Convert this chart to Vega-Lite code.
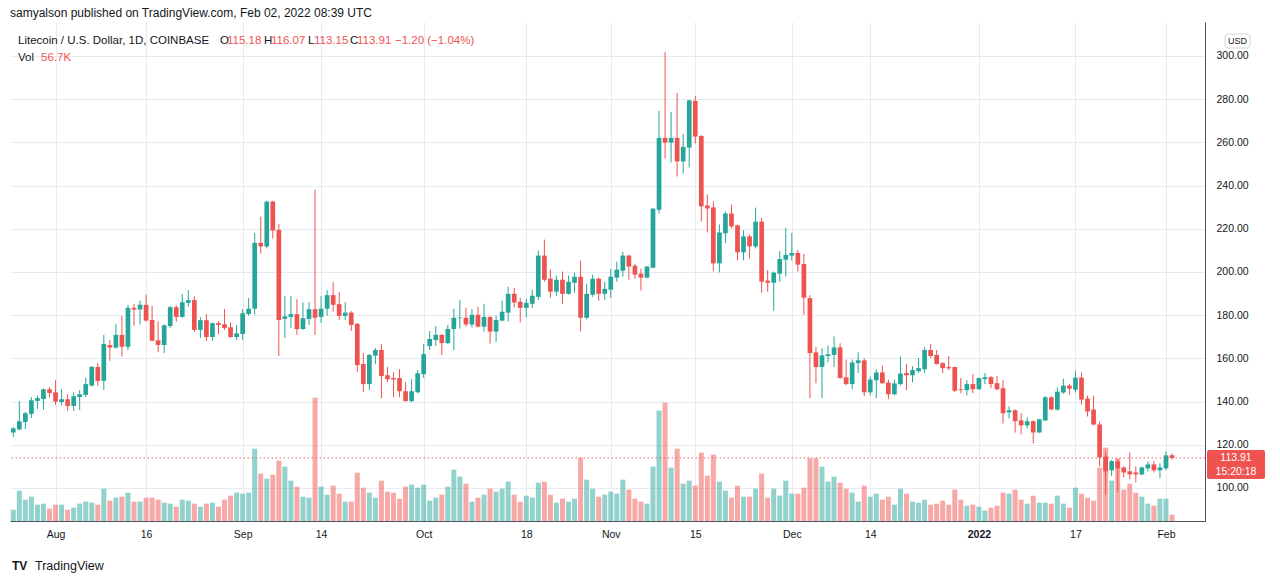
{
"$schema":"https://vega.github.io/schema/vega-lite/v6.json",
"autosize":"none","width":1195,"height":499,
"padding":{"left":10,"top":22,"right":75,"bottom":63},
"background":"#ffffff",
"config":{"view":{"stroke":null},"font":"Liberation Sans","scale":{"continuousPadding":0}},
"title":{"text":"samyalson published on TradingView.com, Feb 02, 2022 08:39 UTC","anchor":"start","frame":"group","offset":2,"fontSize":12,"fontWeight":"normal","color":"#131722"},
"data":{"values":[
{"d":"2021-07-25","o":125.7,"h":128.2,"l":123.6,"c":127.6,"v":102},
{"d":"2021-07-26","o":127.1,"h":140.2,"l":126.8,"c":130.9,"v":273},
{"d":"2021-07-27","o":130.5,"h":135.2,"l":127.3,"c":134.6,"v":192},
{"d":"2021-07-28","o":134.3,"h":142.0,"l":132.4,"c":140.6,"v":219},
{"d":"2021-07-29","o":140.3,"h":142.8,"l":136.6,"c":141.6,"v":147},
{"d":"2021-07-30","o":141.2,"h":146.0,"l":136.3,"c":145.7,"v":156},
{"d":"2021-07-31","o":145.7,"h":146.7,"l":142.0,"c":144.0,"v":111},
{"d":"2021-08-01","o":144.3,"h":149.9,"l":138.4,"c":140.0,"v":147},
{"d":"2021-08-02","o":139.8,"h":145.7,"l":138.3,"c":141.1,"v":147},
{"d":"2021-08-03","o":141.1,"h":143.4,"l":135.7,"c":138.0,"v":102},
{"d":"2021-08-04","o":138.0,"h":144.3,"l":135.7,"c":142.5,"v":120},
{"d":"2021-08-05","o":142.1,"h":145.3,"l":136.1,"c":143.4,"v":156},
{"d":"2021-08-06","o":143.1,"h":151.0,"l":142.1,"c":148.1,"v":174},
{"d":"2021-08-07","o":147.4,"h":156.4,"l":147.0,"c":156.1,"v":165},
{"d":"2021-08-08","o":156.0,"h":157.8,"l":147.3,"c":149.6,"v":147},
{"d":"2021-08-09","o":149.6,"h":170.9,"l":145.4,"c":166.7,"v":291},
{"d":"2021-08-10","o":166.2,"h":168.5,"l":158.9,"c":165.0,"v":183},
{"d":"2021-08-11","o":165.0,"h":176.0,"l":164.5,"c":170.9,"v":210},
{"d":"2021-08-12","o":170.9,"h":179.7,"l":160.8,"c":165.4,"v":219},
{"d":"2021-08-13","o":165.4,"h":184.7,"l":163.9,"c":183.4,"v":255},
{"d":"2021-08-14","o":183.4,"h":185.3,"l":175.2,"c":182.6,"v":174},
{"d":"2021-08-15","o":182.6,"h":186.7,"l":175.7,"c":184.8,"v":174},
{"d":"2021-08-16","o":184.8,"h":189.5,"l":177.0,"c":177.5,"v":210},
{"d":"2021-08-17","o":177.8,"h":184.3,"l":167.9,"c":168.2,"v":210},
{"d":"2021-08-18","o":168.4,"h":177.2,"l":162.9,"c":166.2,"v":192},
{"d":"2021-08-19","o":166.2,"h":175.8,"l":162.5,"c":175.3,"v":165},
{"d":"2021-08-20","o":175.0,"h":184.2,"l":174.1,"c":183.7,"v":156},
{"d":"2021-08-21","o":183.7,"h":184.6,"l":176.9,"c":179.2,"v":129},
{"d":"2021-08-22","o":179.2,"h":189.8,"l":178.8,"c":186.0,"v":192},
{"d":"2021-08-23","o":185.7,"h":191.6,"l":183.9,"c":187.0,"v":183},
{"d":"2021-08-24","o":187.0,"h":188.8,"l":172.3,"c":173.2,"v":156},
{"d":"2021-08-25","o":173.2,"h":179.1,"l":169.5,"c":177.7,"v":129},
{"d":"2021-08-26","o":177.7,"h":180.5,"l":168.1,"c":169.9,"v":156},
{"d":"2021-08-27","o":169.9,"h":176.6,"l":168.1,"c":176.3,"v":165},
{"d":"2021-08-28","o":176.3,"h":177.2,"l":171.3,"c":175.5,"v":129},
{"d":"2021-08-29","o":175.8,"h":182.8,"l":173.2,"c":174.1,"v":192},
{"d":"2021-08-30","o":174.4,"h":176.7,"l":169.5,"c":169.9,"v":228},
{"d":"2021-08-31","o":169.9,"h":175.3,"l":168.5,"c":171.6,"v":255},
{"d":"2021-09-01","o":171.3,"h":182.8,"l":168.5,"c":180.9,"v":246},
{"d":"2021-09-02","o":180.6,"h":187.9,"l":179.7,"c":183.0,"v":255},
{"d":"2021-09-03","o":183.0,"h":218.1,"l":180.2,"c":213.5,"v":651},
{"d":"2021-09-04","o":213.5,"h":225.6,"l":208.5,"c":211.8,"v":426},
{"d":"2021-09-05","o":211.8,"h":233.0,"l":210.9,"c":232.6,"v":381},
{"d":"2021-09-06","o":232.6,"h":233.0,"l":215.5,"c":219.2,"v":417},
{"d":"2021-09-07","o":219.5,"h":222.3,"l":161.1,"c":177.8,"v":543},
{"d":"2021-09-08","o":178.3,"h":188.8,"l":169.5,"c":179.5,"v":489},
{"d":"2021-09-09","o":179.2,"h":188.8,"l":174.1,"c":180.5,"v":363},
{"d":"2021-09-10","o":180.5,"h":187.4,"l":170.9,"c":173.6,"v":309},
{"d":"2021-09-11","o":173.6,"h":186.0,"l":173.2,"c":178.6,"v":219},
{"d":"2021-09-12","o":178.3,"h":186.0,"l":175.5,"c":182.8,"v":210},
{"d":"2021-09-13","o":182.8,"h":238.1,"l":170.9,"c":178.8,"v":1110},
{"d":"2021-09-14","o":179.2,"h":188.8,"l":176.4,"c":183.0,"v":309},
{"d":"2021-09-15","o":183.0,"h":191.6,"l":179.7,"c":189.3,"v":237},
{"d":"2021-09-16","o":189.3,"h":195.3,"l":181.6,"c":184.8,"v":318},
{"d":"2021-09-17","o":185.1,"h":190.7,"l":177.8,"c":179.7,"v":246},
{"d":"2021-09-18","o":179.7,"h":186.0,"l":177.8,"c":181.2,"v":174},
{"d":"2021-09-19","o":181.2,"h":181.9,"l":172.7,"c":175.5,"v":174},
{"d":"2021-09-20","o":176.0,"h":176.4,"l":153.6,"c":156.9,"v":435},
{"d":"2021-09-21","o":157.4,"h":162.5,"l":144.3,"c":148.1,"v":300},
{"d":"2021-09-22","o":148.1,"h":162.0,"l":145.3,"c":161.6,"v":255},
{"d":"2021-09-23","o":161.3,"h":164.8,"l":157.4,"c":163.9,"v":210},
{"d":"2021-09-24","o":163.9,"h":166.7,"l":141.6,"c":151.8,"v":363},
{"d":"2021-09-25","o":152.2,"h":156.0,"l":149.0,"c":150.4,"v":264},
{"d":"2021-09-26","o":150.9,"h":153.6,"l":142.0,"c":150.2,"v":255},
{"d":"2021-09-27","o":150.9,"h":155.0,"l":142.0,"c":144.8,"v":201},
{"d":"2021-09-28","o":144.8,"h":149.0,"l":140.0,"c":140.2,"v":309},
{"d":"2021-09-29","o":140.2,"h":150.4,"l":139.7,"c":144.8,"v":327},
{"d":"2021-09-30","o":144.3,"h":154.6,"l":143.9,"c":153.1,"v":300},
{"d":"2021-10-01","o":152.7,"h":166.7,"l":150.9,"c":162.0,"v":327},
{"d":"2021-10-02","o":165.7,"h":172.7,"l":163.9,"c":169.0,"v":183},
{"d":"2021-10-03","o":168.5,"h":175.0,"l":165.7,"c":170.9,"v":210},
{"d":"2021-10-04","o":170.9,"h":171.2,"l":161.6,"c":167.1,"v":237},
{"d":"2021-10-05","o":167.1,"h":175.5,"l":166.7,"c":173.6,"v":309},
{"d":"2021-10-06","o":173.6,"h":183.0,"l":163.9,"c":178.8,"v":462},
{"d":"2021-10-07","o":178.6,"h":187.1,"l":173.8,"c":178.9,"v":399},
{"d":"2021-10-08","o":178.8,"h":183.4,"l":174.7,"c":175.7,"v":336},
{"d":"2021-10-09","o":175.7,"h":182.9,"l":174.3,"c":180.2,"v":174},
{"d":"2021-10-10","o":180.2,"h":183.9,"l":174.3,"c":174.7,"v":210},
{"d":"2021-10-11","o":174.7,"h":185.3,"l":172.4,"c":179.2,"v":237},
{"d":"2021-10-12","o":179.2,"h":179.5,"l":166.8,"c":172.4,"v":291},
{"d":"2021-10-13","o":172.4,"h":179.7,"l":167.7,"c":177.8,"v":264},
{"d":"2021-10-14","o":177.5,"h":186.7,"l":177.1,"c":181.6,"v":291},
{"d":"2021-10-15","o":181.2,"h":193.2,"l":177.1,"c":189.9,"v":354},
{"d":"2021-10-16","o":189.9,"h":192.7,"l":183.6,"c":185.9,"v":237},
{"d":"2021-10-17","o":186.2,"h":188.1,"l":176.6,"c":183.4,"v":174},
{"d":"2021-10-18","o":183.4,"h":187.6,"l":178.9,"c":185.7,"v":228},
{"d":"2021-10-19","o":185.3,"h":191.8,"l":183.4,"c":189.0,"v":210},
{"d":"2021-10-20","o":188.5,"h":209.9,"l":187.1,"c":207.6,"v":345},
{"d":"2021-10-21","o":207.6,"h":215.0,"l":195.5,"c":196.4,"v":354},
{"d":"2021-10-22","o":196.9,"h":201.1,"l":188.1,"c":190.9,"v":237},
{"d":"2021-10-23","o":190.9,"h":198.3,"l":189.0,"c":196.4,"v":165},
{"d":"2021-10-24","o":196.4,"h":200.2,"l":185.3,"c":189.9,"v":201},
{"d":"2021-10-25","o":189.9,"h":198.3,"l":189.6,"c":195.5,"v":174},
{"d":"2021-10-26","o":195.0,"h":199.7,"l":190.4,"c":197.8,"v":201},
{"d":"2021-10-27","o":197.8,"h":205.3,"l":172.4,"c":178.8,"v":570},
{"d":"2021-10-28","o":178.8,"h":194.6,"l":178.0,"c":189.9,"v":372},
{"d":"2021-10-29","o":189.5,"h":198.8,"l":188.5,"c":196.9,"v":291},
{"d":"2021-10-30","o":196.9,"h":197.4,"l":186.7,"c":189.9,"v":219},
{"d":"2021-10-31","o":189.9,"h":195.5,"l":187.1,"c":192.2,"v":237},
{"d":"2021-11-01","o":191.8,"h":201.5,"l":188.0,"c":197.8,"v":264},
{"d":"2021-11-02","o":197.4,"h":204.8,"l":195.5,"c":201.1,"v":246},
{"d":"2021-11-03","o":200.6,"h":209.4,"l":197.8,"c":207.6,"v":372},
{"d":"2021-11-04","o":207.6,"h":207.9,"l":196.5,"c":202.5,"v":282},
{"d":"2021-11-05","o":202.9,"h":203.9,"l":196.9,"c":198.8,"v":201},
{"d":"2021-11-06","o":199.2,"h":201.5,"l":191.4,"c":197.4,"v":174},
{"d":"2021-11-07","o":197.4,"h":202.8,"l":197.1,"c":202.5,"v":156},
{"d":"2021-11-08","o":202.0,"h":229.7,"l":201.8,"c":229.3,"v":489},
{"d":"2021-11-09","o":228.8,"h":274.6,"l":227.0,"c":262.1,"v":993},
{"d":"2021-11-10","o":262.1,"h":301.8,"l":252.5,"c":259.9,"v":1065},
{"d":"2021-11-11","o":259.9,"h":274.1,"l":250.7,"c":262.1,"v":480},
{"d":"2021-11-12","o":262.1,"h":282.9,"l":244.2,"c":251.2,"v":651},
{"d":"2021-11-13","o":251.2,"h":263.9,"l":245.6,"c":257.9,"v":336},
{"d":"2021-11-14","o":257.6,"h":279.8,"l":248.4,"c":279.4,"v":363},
{"d":"2021-11-15","o":279.2,"h":281.5,"l":259.5,"c":262.7,"v":318},
{"d":"2021-11-16","o":263.0,"h":263.3,"l":223.4,"c":230.4,"v":615},
{"d":"2021-11-17","o":230.8,"h":235.9,"l":218.3,"c":229.4,"v":408},
{"d":"2021-11-18","o":229.9,"h":232.7,"l":200.3,"c":204.0,"v":597},
{"d":"2021-11-19","o":204.0,"h":222.0,"l":199.8,"c":218.3,"v":354},
{"d":"2021-11-20","o":217.9,"h":228.0,"l":213.3,"c":227.1,"v":273},
{"d":"2021-11-21","o":227.1,"h":231.3,"l":220.2,"c":221.1,"v":210},
{"d":"2021-11-22","o":221.6,"h":221.9,"l":205.4,"c":209.1,"v":318},
{"d":"2021-11-23","o":209.1,"h":219.3,"l":205.4,"c":216.5,"v":219},
{"d":"2021-11-24","o":216.5,"h":217.4,"l":206.3,"c":211.9,"v":219},
{"d":"2021-11-25","o":211.8,"h":229.8,"l":210.9,"c":223.3,"v":291},
{"d":"2021-11-26","o":223.3,"h":225.1,"l":190.4,"c":195.5,"v":426},
{"d":"2021-11-27","o":196.0,"h":200.9,"l":190.9,"c":195.0,"v":210},
{"d":"2021-11-28","o":195.0,"h":200.2,"l":182.0,"c":199.7,"v":291},
{"d":"2021-11-29","o":199.2,"h":209.8,"l":195.5,"c":206.0,"v":228},
{"d":"2021-11-30","o":205.7,"h":220.5,"l":197.8,"c":207.9,"v":363},
{"d":"2021-12-01","o":207.6,"h":218.1,"l":205.3,"c":208.8,"v":246},
{"d":"2021-12-02","o":208.8,"h":210.2,"l":200.2,"c":203.4,"v":246},
{"d":"2021-12-03","o":203.7,"h":208.4,"l":180.2,"c":188.1,"v":300},
{"d":"2021-12-04","o":187.9,"h":189.3,"l":141.6,"c":162.5,"v":564},
{"d":"2021-12-05","o":162.8,"h":165.3,"l":148.5,"c":156.0,"v":564},
{"d":"2021-12-06","o":156.0,"h":164.7,"l":141.6,"c":161.4,"v":489},
{"d":"2021-12-07","o":161.1,"h":166.0,"l":158.3,"c":161.9,"v":354},
{"d":"2021-12-08","o":161.6,"h":170.2,"l":156.0,"c":165.1,"v":399},
{"d":"2021-12-09","o":165.1,"h":167.0,"l":150.6,"c":150.9,"v":345},
{"d":"2021-12-10","o":151.2,"h":159.5,"l":147.6,"c":148.1,"v":291},
{"d":"2021-12-11","o":148.1,"h":159.5,"l":145.7,"c":158.1,"v":255},
{"d":"2021-12-12","o":157.8,"h":162.8,"l":153.2,"c":159.1,"v":174},
{"d":"2021-12-13","o":159.1,"h":160.0,"l":142.5,"c":144.3,"v":318},
{"d":"2021-12-14","o":144.3,"h":151.6,"l":142.9,"c":150.2,"v":219},
{"d":"2021-12-15","o":149.9,"h":154.9,"l":141.6,"c":153.5,"v":246},
{"d":"2021-12-16","o":153.5,"h":156.7,"l":148.3,"c":148.5,"v":192},
{"d":"2021-12-17","o":148.8,"h":150.2,"l":141.1,"c":143.4,"v":219},
{"d":"2021-12-18","o":143.4,"h":150.2,"l":142.9,"c":148.4,"v":147},
{"d":"2021-12-19","o":148.1,"h":160.9,"l":147.4,"c":153.0,"v":291},
{"d":"2021-12-20","o":153.2,"h":157.4,"l":145.3,"c":152.2,"v":246},
{"d":"2021-12-21","o":152.2,"h":156.4,"l":149.0,"c":154.6,"v":174},
{"d":"2021-12-22","o":154.1,"h":160.2,"l":153.3,"c":155.5,"v":165},
{"d":"2021-12-23","o":155.0,"h":165.3,"l":153.2,"c":163.9,"v":192},
{"d":"2021-12-24","o":163.9,"h":166.7,"l":160.2,"c":161.1,"v":147},
{"d":"2021-12-25","o":161.6,"h":163.9,"l":157.2,"c":157.4,"v":156},
{"d":"2021-12-26","o":157.8,"h":158.3,"l":153.2,"c":155.5,"v":183},
{"d":"2021-12-27","o":156.0,"h":161.1,"l":154.6,"c":155.4,"v":147},
{"d":"2021-12-28","o":156.0,"h":156.2,"l":144.3,"c":145.0,"v":282},
{"d":"2021-12-29","o":145.7,"h":150.9,"l":143.9,"c":145.3,"v":192},
{"d":"2021-12-30","o":145.3,"h":149.9,"l":142.9,"c":148.1,"v":138},
{"d":"2021-12-31","o":148.1,"h":152.7,"l":143.9,"c":145.7,"v":147},
{"d":"2022-01-01","o":145.7,"h":151.1,"l":145.5,"c":150.9,"v":129},
{"d":"2022-01-02","o":150.4,"h":153.2,"l":148.1,"c":151.3,"v":93},
{"d":"2022-01-03","o":151.3,"h":151.8,"l":146.2,"c":148.1,"v":120},
{"d":"2022-01-04","o":148.5,"h":151.8,"l":145.3,"c":145.7,"v":138},
{"d":"2022-01-05","o":146.2,"h":149.9,"l":129.9,"c":134.6,"v":255},
{"d":"2022-01-06","o":135.0,"h":137.8,"l":132.2,"c":136.0,"v":246},
{"d":"2022-01-07","o":136.0,"h":136.4,"l":125.7,"c":130.9,"v":282},
{"d":"2022-01-08","o":131.3,"h":134.6,"l":124.8,"c":129.0,"v":192},
{"d":"2022-01-09","o":129.0,"h":132.7,"l":127.6,"c":130.9,"v":156},
{"d":"2022-01-10","o":130.9,"h":131.3,"l":120.6,"c":125.7,"v":228},
{"d":"2022-01-11","o":125.7,"h":132.0,"l":125.5,"c":131.8,"v":165},
{"d":"2022-01-12","o":131.3,"h":142.5,"l":130.9,"c":142.0,"v":165},
{"d":"2022-01-13","o":142.0,"h":142.5,"l":136.0,"c":136.4,"v":156},
{"d":"2022-01-14","o":136.3,"h":146.5,"l":135.8,"c":144.6,"v":228},
{"d":"2022-01-15","o":144.2,"h":150.6,"l":143.7,"c":147.4,"v":156},
{"d":"2022-01-16","o":147.4,"h":148.3,"l":143.2,"c":146.0,"v":120},
{"d":"2022-01-17","o":145.5,"h":154.3,"l":144.2,"c":151.1,"v":300},
{"d":"2022-01-18","o":151.1,"h":153.4,"l":138.6,"c":140.9,"v":246},
{"d":"2022-01-19","o":141.4,"h":142.8,"l":133.1,"c":135.4,"v":210},
{"d":"2022-01-20","o":136.3,"h":142.8,"l":128.9,"c":129.4,"v":183},
{"d":"2022-01-21","o":129.4,"h":130.8,"l":110.0,"c":114.2,"v":480},
{"d":"2022-01-22","o":114.6,"h":116.9,"l":97.0,"c":107.7,"v":660},
{"d":"2022-01-23","o":108.2,"h":113.0,"l":105.5,"c":112.4,"v":363},
{"d":"2022-01-24","o":112.3,"h":113.4,"l":98.0,"c":109.1,"v":564},
{"d":"2022-01-25","o":109.5,"h":110.0,"l":104.9,"c":107.2,"v":282},
{"d":"2022-01-26","o":107.7,"h":116.5,"l":104.0,"c":106.3,"v":336},
{"d":"2022-01-27","o":107.2,"h":110.0,"l":102.6,"c":106.3,"v":255},
{"d":"2022-01-28","o":106.3,"h":110.0,"l":105.8,"c":109.5,"v":219},
{"d":"2022-01-29","o":109.1,"h":112.3,"l":107.7,"c":110.9,"v":156},
{"d":"2022-01-30","o":110.9,"h":112.3,"l":107.2,"c":108.2,"v":138},
{"d":"2022-01-31","o":108.2,"h":111.4,"l":104.5,"c":109.5,"v":201},
{"d":"2022-02-01","o":109.1,"h":116.9,"l":108.2,"c":115.1,"v":201},
{"d":"2022-02-02","o":115.18,"h":116.07,"l":113.15,"c":113.91,"v":57}
]},
"resolve":{"scale":{"y":"independent"}},
"layer":[
{"mark":{"type":"bar","width":5,"opacity":0.5},
 "encoding":{
  "x":{"field":"d","type":"temporal","title":null,
       "scale":{"type":"utc","domain":[1627123955593,1644232157558],"padding":0},
       "axis":{"values":[{"year":2021,"month":8,"date":1,"utc":true},{"year":2021,"month":8,"date":16,"utc":true},{"year":2021,"month":9,"date":1,"utc":true},{"year":2021,"month":9,"date":14,"utc":true},{"year":2021,"month":10,"date":1,"utc":true},{"year":2021,"month":10,"date":18,"utc":true},{"year":2021,"month":11,"date":1,"utc":true},{"year":2021,"month":11,"date":15,"utc":true},{"year":2021,"month":12,"date":1,"utc":true},{"year":2021,"month":12,"date":14,"utc":true},{"year":2022,"month":1,"date":1,"utc":true},{"year":2022,"month":1,"date":17,"utc":true},{"year":2022,"month":2,"date":1,"utc":true}],
        "labelExpr":"utcdate(datum.value) == 1 ? (utcmonth(datum.value) == 0 ? '2022' : utcFormat(datum.value, '%b')) : utcFormat(datum.value, '%d')",
        "labelFontWeight":{"condition":{"test":"utcmonth(datum.value) == 0 && utcdate(datum.value) == 1","value":"bold"},"value":"normal"},
        "grid":true,"gridColor":"#e6ebf1","tickSize":0,"labelPadding":8,"labelFontSize":10.5,"labelColor":"#131722",
        "domainColor":"#50535e","labelFlush":false,"labelOverlap":false}},
  "y":{"field":"v","type":"quantitative","scale":{"domain":[0,4491]},"axis":null},
  "color":{"condition":{"test":"datum.c >= datum.o","value":"#26a69a"},"value":"#ef5350"}
 }},
{"layer":[
 {"mark":{"type":"rule","strokeWidth":1},
  "encoding":{
   "x":{"field":"d","type":"temporal","title":null},
   "y":{"field":"l","type":"quantitative","title":null,
        "scale":{"domain":[84.72,315.74],"nice":false,"zero":false},
        "axis":{"orient":"right","values":[100,120,140,160,180,200,220,240,260,280,300],"format":".2f",
                "grid":true,"gridColor":"#e6ebf1","tickSize":0,"labelPadding":11,"labelFontSize":10.5,
                "labelColor":"#131722","domainColor":"#50535e"}},
   "y2":{"field":"h"},
   "color":{"condition":{"test":"datum.c >= datum.o","value":"#26a69a"},"value":"#ef5350"}
  }},
 {"mark":{"type":"bar","width":4.7},
  "encoding":{
   "x":{"field":"d","type":"temporal","title":null},
   "y":{"field":"o","type":"quantitative","title":null},
   "y2":{"field":"c"},
   "color":{"condition":{"test":"datum.c >= datum.o","value":"#26a69a"},"value":"#ef5350"}
  }},
 {"data":{"values":[{}]},"mark":{"type":"rule","color":"#ef5350","strokeWidth":1,"strokeDash":[1.3,2.7]},
  "encoding":{"y":{"datum":113.91,"type":"quantitative"}}},
 {"data":{"values":[{}]},"mark":{"type":"rect","color":"#ef5350","cornerRadius":2},
  "encoding":{"x":{"datum":1644260791000,"type":"temporal"},"x2":{"datum":1645091147000},
              "y":{"datum":117.59,"type":"quantitative"},"y2":{"datum":104.17}}},
 {"data":{"values":[{}]},"mark":{"type":"text","text":"113.91","color":"#ffffff","fontSize":10.5,"align":"center","baseline":"middle"},
  "encoding":{"x":{"datum":1644675969000,"type":"temporal"},"y":{"datum":113.89,"type":"quantitative"}}},
 {"data":{"values":[{}]},"mark":{"type":"text","text":"15:20:18","color":"#ffffff","fontSize":10.5,"align":"center","baseline":"middle"},
  "encoding":{"x":{"datum":1644675969000,"type":"temporal"},"y":{"datum":107.41,"type":"quantitative"}}},
 {"data":{"values":[{}]},"mark":{"type":"rect","fill":"#ffffff","stroke":"#d1d4dc","strokeWidth":1,"cornerRadius":3},
  "encoding":{"x":{"datum":1644518587000,"type":"temporal"},"x2":{"datum":1644876500000},
              "y":{"datum":310.19,"type":"quantitative"},"y2":{"datum":303.70}}},
 {"data":{"values":[{}]},"mark":{"type":"text","text":"USD","color":"#131722","fontSize":9,"align":"center","baseline":"middle"},
  "encoding":{"x":{"datum":1644697443000,"type":"temporal"},"y":{"datum":306.94,"type":"quantitative"}}},
 {"data":{"values":[{}]},"mark":{"type":"text","text":"Litecoin / U.S. Dollar, 1D, COINBASE","color":"#131722","fontSize":11.5,"align":"left","baseline":"middle"},
  "encoding":{"x":{"datum":1627238487000,"type":"temporal"},"y":{"datum":306.94,"type":"quantitative"}}},
 {"data":{"values":[{}]},"mark":{"type":"text","text":"O","color":"#131722","fontSize":11.5,"align":"left","baseline":"middle"},
  "encoding":{"x":{"datum":1630130418000,"type":"temporal"},"y":{"datum":306.94,"type":"quantitative"}}},
 {"data":{"values":[{}]},"mark":{"type":"text","text":"115.18","color":"#ef5350","fontSize":11.5,"align":"left","baseline":"middle"},
  "encoding":{"x":{"datum":1630230634000,"type":"temporal"},"y":{"datum":306.94,"type":"quantitative"}}},
 {"data":{"values":[{}]},"mark":{"type":"text","text":"H","color":"#131722","fontSize":11.5,"align":"left","baseline":"middle"},
  "encoding":{"x":{"datum":1630760343000,"type":"temporal"},"y":{"datum":306.94,"type":"quantitative"}}},
 {"data":{"values":[{}]},"mark":{"type":"text","text":"116.07","color":"#ef5350","fontSize":11.5,"align":"left","baseline":"middle"},
  "encoding":{"x":{"datum":1630860559000,"type":"temporal"},"y":{"datum":306.94,"type":"quantitative"}}},
 {"data":{"values":[{}]},"mark":{"type":"text","text":"L","color":"#131722","fontSize":11.5,"align":"left","baseline":"middle"},
  "encoding":{"x":{"datum":1631390269000,"type":"temporal"},"y":{"datum":306.94,"type":"quantitative"}}},
 {"data":{"values":[{}]},"mark":{"type":"text","text":"113.15","color":"#ef5350","fontSize":11.5,"align":"left","baseline":"middle"},
  "encoding":{"x":{"datum":1631476168000,"type":"temporal"},"y":{"datum":306.94,"type":"quantitative"}}},
 {"data":{"values":[{}]},"mark":{"type":"text","text":"C","color":"#131722","fontSize":11.5,"align":"left","baseline":"middle"},
  "encoding":{"x":{"datum":1631991561000,"type":"temporal"},"y":{"datum":306.94,"type":"quantitative"}}},
 {"data":{"values":[{}]},"mark":{"type":"text","text":"113.91","color":"#ef5350","fontSize":11.5,"align":"left","baseline":"middle"},
  "encoding":{"x":{"datum":1632091777000,"type":"temporal"},"y":{"datum":306.94,"type":"quantitative"}}},
 {"data":{"values":[{}]},"mark":{"type":"text","text":"−1.20 (−1.04%)","color":"#ef5350","fontSize":11.5,"align":"left","baseline":"middle"},
  "encoding":{"x":{"datum":1632635803000,"type":"temporal"},"y":{"datum":306.94,"type":"quantitative"}}},
 {"data":{"values":[{}]},"mark":{"type":"text","text":"Vol","color":"#131722","fontSize":11.5,"align":"left","baseline":"middle"},
  "encoding":{"x":{"datum":1627238487000,"type":"temporal"},"y":{"datum":299.07,"type":"quantitative"}}},
 {"data":{"values":[{}]},"mark":{"type":"text","text":"56.7K","color":"#ef5350","fontSize":11.5,"align":"left","baseline":"middle"},
  "encoding":{"x":{"datum":1627567767000,"type":"temporal"},"y":{"datum":299.07,"type":"quantitative"}}},
 {"data":{"values":[{}]},"mark":{"type":"text","text":"TV","color":"#131722","fontSize":12,"fontWeight":"bold","align":"left","baseline":"middle"},
  "encoding":{"x":{"datum":1627152589000,"type":"temporal"},"y":{"datum":63.89,"type":"quantitative"}}},
 {"data":{"values":[{}]},"mark":{"type":"text","text":"TradingView","color":"#131722","fontSize":12.5,"align":"left","baseline":"middle"},
  "encoding":{"x":{"datum":1627481868000,"type":"temporal"},"y":{"datum":63.89,"type":"quantitative"}}}
]}
]
}
